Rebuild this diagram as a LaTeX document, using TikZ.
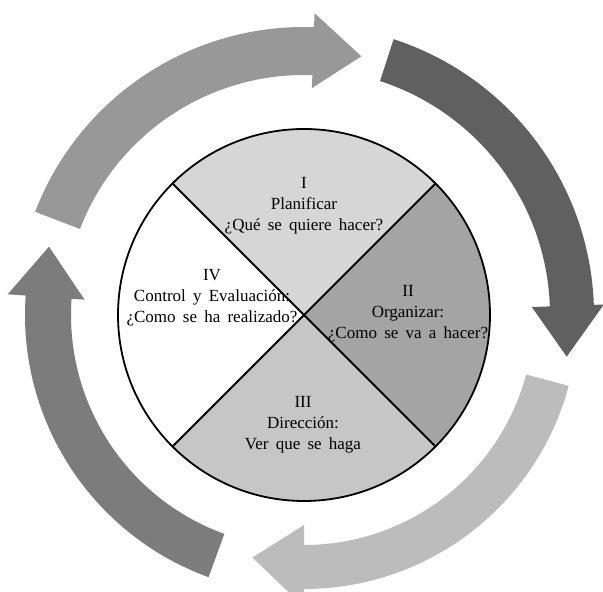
\documentclass[tikz,border=0pt]{standalone}
\usepackage{fontspec}
\setmainfont{Liberation Serif}[WordSpace={1.7,1.2,1}]
\usetikzlibrary{calc}
\definecolor{arrA}{RGB}{152,152,152}
\definecolor{arrB}{RGB}{96,96,96}
\definecolor{arrC}{RGB}{188,188,188}
\definecolor{arrD}{RGB}{124,124,124}
\definecolor{secI}{RGB}{214,214,214}
\definecolor{secII}{RGB}{164,164,164}
\definecolor{secIII}{RGB}{198,198,198}
\definecolor{secIV}{RGB}{255,255,255}
\tikzset{
  lbl/.style={align=center, font=\fontsize{17}{21}\selectfont, inner sep=0pt},
  divline/.style={line width=1.8pt, black},
}
% #1 colour, #2 ri, #3 ro, #4 head inner, #5 head outer, #6 tip radius, #7 tail angle, #8 base angle, #9 tip angle
\newcommand{\arcarrow}[9]{%
  \fill[#1, shift={(C)}] (#7:#3pt) arc[start angle=#7, end angle=#8, radius=#3pt]
    -- (#8:#5pt) -- (#9:#6pt) -- (#8:#4pt) -- (#8:#2pt)
    arc[start angle=#8, end angle=#7, radius=#2pt] -- cycle;}
\begin{document}
\begin{tikzpicture}[x=1pt,y=1pt]
\useasboundingbox (0,0) rectangle (603,592);
\fill[white] (0,0) rectangle (603,592);
\coordinate (C) at (304,277);
% arrows
\arcarrow{arrA}{240}{288}{227}{302}{265}{159}{88}{77.5}
\arcarrow{arrB}{246}{290}{228}{300}{266}{72}{2}{-9}
\arcarrow{arrC}{230}{274}{210}{292}{248}{-15}{-90}{-102}
\arcarrow{arrD}{233}{279}{220}{297}{264}{-110}{-184}{-195}
% sectors
\fill[secI]   (C) -- ($(C)+(45:186)$) arc[start angle=45, end angle=135, radius=186] -- cycle;
\fill[secII]  (C) -- ($(C)+(-45:186)$) arc[start angle=-45, end angle=45, radius=186] -- cycle;
\fill[secIII] (C) -- ($(C)+(-135:186)$) arc[start angle=-135, end angle=-45, radius=186] -- cycle;
\fill[secIV]  (C) -- ($(C)+(135:186)$) arc[start angle=135, end angle=225, radius=186] -- cycle;
\draw[divline] (C) circle[radius=186];
\draw[divline] ($(C)+(135:186)$) -- ($(C)+(-45:186)$);
\draw[divline] ($(C)+(45:186)$) -- ($(C)+(-135:186)$);
% labels
\node[lbl] (t1) at (304,386) {I\\Planificar\\¿Qué se quiere hacer?};
\node[lbl] (t2) at (408,278) {II\\Organizar:\\¿Como se va a hacer?};
\node[lbl] (t3) at (303,167) {III\\Dirección:\\Ver que se haga};
\node[lbl] (t4) at (212,294) {IV\\Control y Evaluación:\\¿Como se ha realizado?};
\end{tikzpicture}
\end{document}
